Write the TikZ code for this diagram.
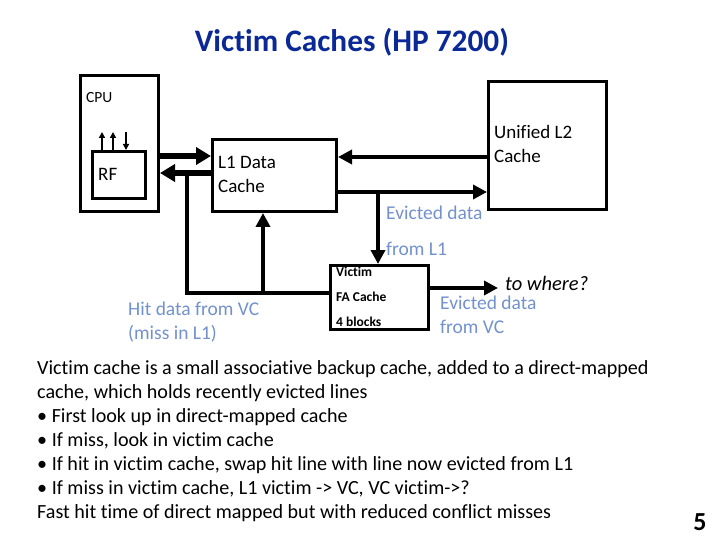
\documentclass[tikz,border=0pt]{standalone}
\usepackage{fontspec}
\setmainfont{Carlito}[Ligatures=NoCommon]
\usetikzlibrary{arrows.meta}
\definecolor{titleblue}{RGB}{10,40,150}
\definecolor{lblue}{RGB}{115,145,205}
\begin{document}
\begin{tikzpicture}[x=1pt,y=-1pt,
  box/.style={draw,line width=3pt,anchor=north west,inner sep=0pt},
  txt/.style={anchor=west,inner sep=0pt,align=left},
  lbl/.style={txt,font=\fontsize{19}{24}\selectfont},
  blu/.style={txt,text=lblue,font=\fontsize{19.5}{24}\selectfont},
  vic/.style={txt,font=\bfseries\fontsize{13.5}{15}\selectfont},
  body/.style={txt,font=\fontsize{20.1}{24}\selectfont},
  fat/.style={line width=6pt,-{Triangle[length=15pt,width=17pt]}},
  med/.style={line width=4pt,-{Triangle[length=14pt,width=14pt]}},
  bus/.style={line width=4pt},
  thin/.style={line width=2pt,-{Triangle[length=6pt,width=6pt]}}]
\useasboundingbox (0,0) rectangle (720,540);
% title
\node[font=\bfseries\fontsize{31.3}{36}\selectfont,text=titleblue] (title) at (352,42) {Victim Caches (HP 7200)};
% boxes
\node[box,minimum width=78pt,minimum height=136pt] (cpu) at (79,74) {};
\node[box,minimum width=53pt,minimum height=47pt] (rf) at (91,150) {};
\node[box,minimum width=124pt,minimum height=72pt] (l1) at (211,138) {};
\node[box,minimum width=118pt,minimum height=128pt] (l2) at (487,80) {};
\node[box,minimum width=98pt,minimum height=64pt] (vc) at (329,264) {};
% box labels
\node[txt,font=\fontsize{15.5}{16}\selectfont] (cpul) at (86,98) {CPU};
\node[lbl] (rfl) at (98,174) {RF};
\node[lbl] (l1l) at (218,174) {L1 Data\\Cache};
\node[lbl] (l2l) at (494,144) {Unified L2\\Cache};
\node[vic] (v1) at (336,272) {Victim};
\node[vic] (v2) at (336,297) {FA Cache};
\node[vic] (v3) at (336,322) {4 blocks};
% helper coordinates
\coordinate (ya) at (0,156);
\coordinate (yb) at (0,173);
\coordinate (yc) at (0,157);
\coordinate (yd) at (0,192);
\coordinate (ye) at (0,288);
\coordinate (yf) at (0,293);
\coordinate (jd) at (378,192);
\coordinate (xh) at (187,0);
\coordinate (xi) at (263,0);
\coordinate (tw) at (498,288);
\coordinate (r1) at (102,132);
\coordinate (r2) at (113,132);
\coordinate (r3) at (126,132);
% connectors
\draw[fat] (cpu.east |- ya) -- (l1.west |- ya);
\draw[fat] (l1.west |- yb) -- (cpu.east |- yb);
\draw[med] (l2.west |- yc) -- (l1.east |- yc);
\draw[med] (l1.east |- yd) -- (l2.west |- yd);
\draw[med] (jd) -- (vc.north -| jd);
\draw[med] (vc.east |- ye) -- (tw);
\draw[bus] (vc.west |- yf) -- (xh |- yf) -- (xh |- yb);
\draw[med] (xi |- yf) -- (l1.south -| xi);
\draw[thin] (rf.north -| r1) -- (r1);
\draw[thin] (rf.north -| r2) -- (r2);
\draw[thin] (r3) -- (rf.north -| r3);
% annotations
\node[blu] (ev1) at (386,213) {Evicted data};
\node[blu] (ev2) at (386,249) {from L1};
\node[txt,font=\itshape\fontsize{20.5}{24}\selectfont] (where) at (505,283) {to where?};
\node[blu] (evc) at (440,315) {Evicted data\\from VC};
\node[blu] (hit) at (128,322) {Hit data from VC\\(miss in L1)};
% body text
\node[body] (b1) at (37,369) {Victim cache is a small associative backup cache, added to a direct-mapped};
\node[body] (b2) at (37,393) {cache, which holds recently evicted lines};
\node[body] (b3) at (37,417) {• First look up in direct-mapped cache};
\node[body] (b4) at (37,441) {• If miss, look in victim cache};
\node[body] (b5) at (37,465) {• If hit in victim cache, swap hit line with line now evicted from L1};
\node[body] (b6) at (37,489) {• If miss in victim cache, L1 victim -> VC, VC victim->?};
\node[body] (b7) at (37,513) {Fast hit time of direct mapped but with reduced conflict misses};
\node[font=\bfseries\fontsize{26}{30}\selectfont] (num) at (700,522) {5};
\end{tikzpicture}
\end{document}
